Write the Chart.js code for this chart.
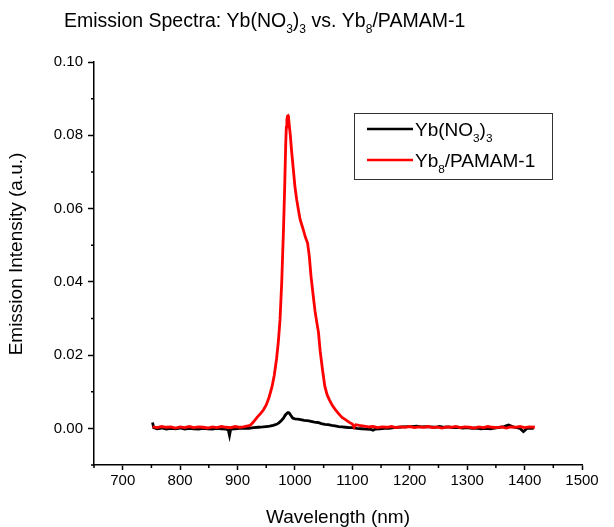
<!DOCTYPE html>
<html>
<head>
<meta charset="utf-8">
<script src="https://cdn.jsdelivr.net/npm/chart.js@4/dist/chart.umd.min.js"></script>
<style>
  html, body { margin: 0; padding: 0; background: #fff; }
  #wrap { width: 614px; height: 527px; }
</style>
</head>
<body>
<div id="wrap"><canvas id="c" width="614" height="527"></canvas></div>
<script>
// Emission spectra (wavelength in nm, intensity in a.u.)
const blackWavelength = [
  752, 754, 760, 768, 776, 784, 792, 800, 808, 816, 824, 832, 840, 848, 856, 864, 872, 880,
  884, 886, 888, 896, 904, 912, 920, 928, 936, 944, 950, 956, 962, 968, 972, 976, 980, 983,
  986, 988, 990, 993, 996, 1000, 1005, 1010, 1016, 1022, 1028, 1034, 1040, 1046, 1052, 1058,
  1064, 1070, 1076, 1082, 1088, 1094, 1100, 1108, 1116, 1124, 1132, 1136, 1140, 1148, 1156,
  1164, 1172, 1180, 1188, 1196, 1204, 1212, 1220, 1228, 1236, 1244, 1252, 1260, 1268, 1276,
  1284, 1292, 1300, 1308, 1316, 1324, 1332, 1340, 1348, 1356, 1364, 1372, 1380, 1386, 1392,
  1398, 1404, 1410, 1416
];
const blackIntensity = [
  0.0016, 0.0002, -0.0001, 0.0001, -0.0002, 0.0000, -0.0001, 0.0001, -0.0002, 0.0000, -0.0001, -0.0002, 0.0000, -0.0001, -0.0002, 0.0000, -0.0001, -0.0002,
  -0.0005, -0.0019, -0.0003, -0.0001, 0.0000, 0.0001, 0.0000, 0.0002, 0.0003, 0.0004, 0.0005, 0.0006, 0.0008, 0.0011, 0.0015, 0.0021, 0.0028, 0.0036,
  0.0041, 0.0043, 0.0042, 0.0035, 0.0028, 0.0026, 0.0025, 0.0024, 0.0022, 0.0021, 0.0019, 0.0017, 0.0016, 0.0013, 0.0011, 0.0010,
  0.0008, 0.0007, 0.0005, 0.0004, 0.0003, 0.0002, 0.0002, 0.0000, -0.0001, -0.0002, -0.0003, -0.0005, -0.0002, -0.0001, 0.0000,
  0.0000, 0.0002, 0.0003, 0.0004, 0.0005, 0.0005, 0.0006, 0.0004, 0.0005, 0.0004, 0.0003, 0.0005, 0.0003, 0.0004, 0.0002,
  0.0003, 0.0001, 0.0002, 0.0000, 0.0001, -0.0001, 0.0000, -0.0001, 0.0001, 0.0003, 0.0005, 0.0009, 0.0004, 0.0002, 0.0000,
  -0.0009, 0.0000, 0.0001, 0.0000
];

const redWavelength = [
  752, 760, 768, 776, 784, 792, 800, 808, 816, 824, 832, 840, 848, 856, 864, 872, 880, 888,
  896, 904, 910, 916, 922, 928, 934, 940, 945, 950, 955, 960, 964, 968, 971, 974, 977, 980,
  982, 984, 985, 986, 987, 988, 989, 990, 992, 994, 997, 1000, 1003, 1006, 1009, 1012, 1015, 1018, 1022,
  1025, 1028, 1032, 1035, 1038, 1041, 1044, 1048, 1052, 1056, 1060, 1065, 1070, 1076, 1082,
  1088, 1094, 1100, 1103, 1106, 1112, 1120, 1128, 1136, 1144, 1152, 1160, 1168, 1176, 1184,
  1192, 1200, 1208, 1216, 1224, 1232, 1240, 1248, 1256, 1264, 1272, 1280, 1288, 1296, 1304,
  1312, 1320, 1328, 1336, 1344, 1352, 1360, 1368, 1376, 1384, 1392, 1400, 1408, 1418
];
const redIntensity = [
  0.0004, 0.0002, 0.0005, 0.0003, 0.0004, 0.0001, 0.0004, 0.0002, 0.0005, 0.0002, 0.0004, 0.0003, 0.0001, 0.0004, 0.0002, 0.0005, 0.0003, 0.0002,
  0.0005, 0.0003, 0.0004, 0.0006, 0.0008, 0.0018, 0.0030, 0.0040, 0.0050, 0.0064, 0.0085, 0.0113, 0.0145, 0.0190, 0.0235, 0.0296, 0.0400, 0.0540,
  0.0650, 0.0780, 0.0822, 0.0843, 0.0852, 0.0853, 0.0846, 0.0830, 0.0800, 0.0760, 0.0710, 0.0660, 0.0625, 0.0597, 0.0570, 0.0555, 0.0540, 0.0523, 0.0506,
  0.0470, 0.0415, 0.0360, 0.0320, 0.0290, 0.0262, 0.0210, 0.0160, 0.0115, 0.0092, 0.0078, 0.0063, 0.0052, 0.0040, 0.0030,
  0.0024, 0.0017, 0.0012, 0.0003, 0.0010, 0.0008, 0.0006, 0.0004, 0.0005, 0.0002, 0.0004, 0.0003, 0.0005, 0.0002, 0.0004,
  0.0003, 0.0005, 0.0002, 0.0004, 0.0003, 0.0005, 0.0002, 0.0004, 0.0001, 0.0004, 0.0003, 0.0005, 0.0002, 0.0004, 0.0003,
  0.0001, 0.0004, 0.0002, 0.0005, 0.0003, 0.0002, 0.0004, 0.0001, 0.0004, 0.0003, 0.0005, 0.0002, 0.0004, 0.0003
];

// Text pieces; "sub" marks a subscript
const titleParts = [
  { t: 'Emission Spectra: Yb(NO' }, { t: '3', sub: true }, { t: ')' }, { t: '3', sub: true },
  { t: ' vs. Yb' }, { t: '8', sub: true }, { t: '/PAMAM-1' }
];
const seriesNames = [
  [{ t: 'Yb(NO' }, { t: '3', sub: true }, { t: ')' }, { t: '3', sub: true }],
  [{ t: 'Yb' }, { t: '8', sub: true }, { t: '/PAMAM-1' }]
];
const seriesColors = ['#000000', '#ff0000'];
const xAxisTitle = 'Wavelength (nm)';
const yAxisTitle = 'Emission Intensity (a.u.)';

const FONT = 'Arial, "Liberation Sans", sans-serif';

function toPoints(xs, ys) {
  return xs.map((x, i) => ({ x: x, y: ys[i] }));
}

function drawParts(ctx, parts, x, y, size) {
  let cx = x;
  for (const p of parts) {
    const s = p.sub ? size * 0.62 : size;
    ctx.font = s + 'px ' + FONT;
    ctx.fillText(p.t, cx, p.sub ? y + size * 0.3 : y);
    cx += ctx.measureText(p.t).width;
  }
  return cx;
}

// Title, axis-title for y, legend box and short minor ticks
const decorations = {
  id: 'decorations',
  afterDraw(chart) {
    const ctx = chart.ctx;
    const xs = chart.scales.x, ys = chart.scales.y;
    const area = chart.chartArea;
    ctx.save();
    ctx.strokeStyle = '#000';
    ctx.lineWidth = 1.5;
    ctx.beginPath();
    for (let v = 650; v <= 1500; v += 50) {
      if (v % 100 !== 0) {
        const px = xs.getPixelForValue(v);
        ctx.moveTo(px, area.bottom);
        ctx.lineTo(px, area.bottom + 3);
      }
    }
    for (let k = -1; k <= 10; k++) {
      if (Math.abs(k) % 2 === 1) {
        const py = ys.getPixelForValue(k / 100);
        ctx.moveTo(area.left, py);
        ctx.lineTo(area.left - 3, py);
      }
    }
    ctx.stroke();

    ctx.fillStyle = '#000';
    ctx.textBaseline = 'alphabetic';
    ctx.textAlign = 'left';
    drawParts(ctx, titleParts, 64, 27, 19.5);

    // rotated y-axis title
    ctx.save();
    ctx.translate(17, 254);
    ctx.rotate(-Math.PI / 2);
    ctx.font = '19px ' + FONT;
    ctx.textAlign = 'center';
    ctx.textBaseline = 'middle';
    ctx.fillText(yAxisTitle, 0, 0);
    ctx.restore();

    // legend
    ctx.fillStyle = '#fff';
    ctx.fillRect(354.5, 113.5, 198, 66);
    ctx.strokeStyle = '#333';
    ctx.lineWidth = 1;
    ctx.strokeRect(354.5, 113.5, 198, 66);
    const rows = [129, 160];
    seriesNames.forEach((parts, i) => {
      ctx.strokeStyle = seriesColors[i];
      ctx.lineWidth = 2.5;
      ctx.beginPath();
      ctx.moveTo(367, rows[i]);
      ctx.lineTo(413, rows[i]);
      ctx.stroke();
      ctx.fillStyle = '#000';
      ctx.textAlign = 'left';
      ctx.textBaseline = 'alphabetic';
      drawParts(ctx, parts, 415, rows[i] + 7, 19);
    });
    ctx.restore();
  }
};

const ctx = document.getElementById('c').getContext('2d');
new Chart(ctx, {
  type: 'line',
  data: {
    datasets: [
      {
        label: 'Yb(NO3)3',
        data: toPoints(blackWavelength, blackIntensity),
        borderColor: seriesColors[0],
        borderWidth: 2.8,
        pointRadius: 0,
        tension: 0,
        order: 1
      },
      {
        label: 'Yb8/PAMAM-1',
        data: toPoints(redWavelength, redIntensity),
        borderColor: seriesColors[1],
        borderWidth: 2.8,
        pointRadius: 0,
        tension: 0,
        order: 0
      }
    ]
  },
  options: {
    responsive: false,
    animation: false,
    layout: { padding: { top: 62, right: 32, left: 0, bottom: 0 } },
    plugins: {
      legend: { display: false },
      title: { display: false },
      tooltip: { enabled: false }
    },
    scales: {
      x: {
        type: 'linear',
        min: 650,
        max: 1500,
        afterFit(scale) { scale.height = 62; },
        border: { display: true, color: '#000', width: 1.5 },
        grid: {
          drawOnChartArea: false,
          drawTicks: true,
          tickLength: 5,
          tickWidth: 1.5,
          tickColor: (c) => (c.tick && c.tick.value % 100 === 0 ? '#000' : 'rgba(0,0,0,0)')
        },
        ticks: {
          stepSize: 50,
          autoSkip: false,
          maxRotation: 0,
          padding: 2,
          color: '#000',
          font: { family: FONT, size: 15 },
          callback: (v) => (v % 100 === 0 ? String(v) : '')
        },
        title: {
          display: true,
          text: xAxisTitle,
          color: '#000',
          font: { family: FONT, size: 19, lineHeight: 1 },
          padding: { top: 0, bottom: 0 }
        }
      },
      y: {
        type: 'linear',
        min: -0.01,
        max: 0.10,
        afterFit(scale) { scale.width = 94; },
        border: { display: true, color: '#000', width: 1.5 },
        grid: {
          drawOnChartArea: false,
          drawTicks: true,
          tickLength: 6,
          tickWidth: 1.5,
          tickColor: (c) => (c.tick && Math.round(c.tick.value * 100) % 2 === 0 ? '#000' : 'rgba(0,0,0,0)')
        },
        ticks: {
          stepSize: 0.01,
          autoSkip: false,
          padding: 5,
          color: '#000',
          font: { family: FONT, size: 15 },
          callback: (v) => (Math.round(v * 100) % 2 === 0 ? (Math.round(v * 100) / 100).toFixed(2) : '')
        },
        title: { display: false }
      }
    }
  },
  plugins: [decorations]
});
</script>
</body>
</html>
